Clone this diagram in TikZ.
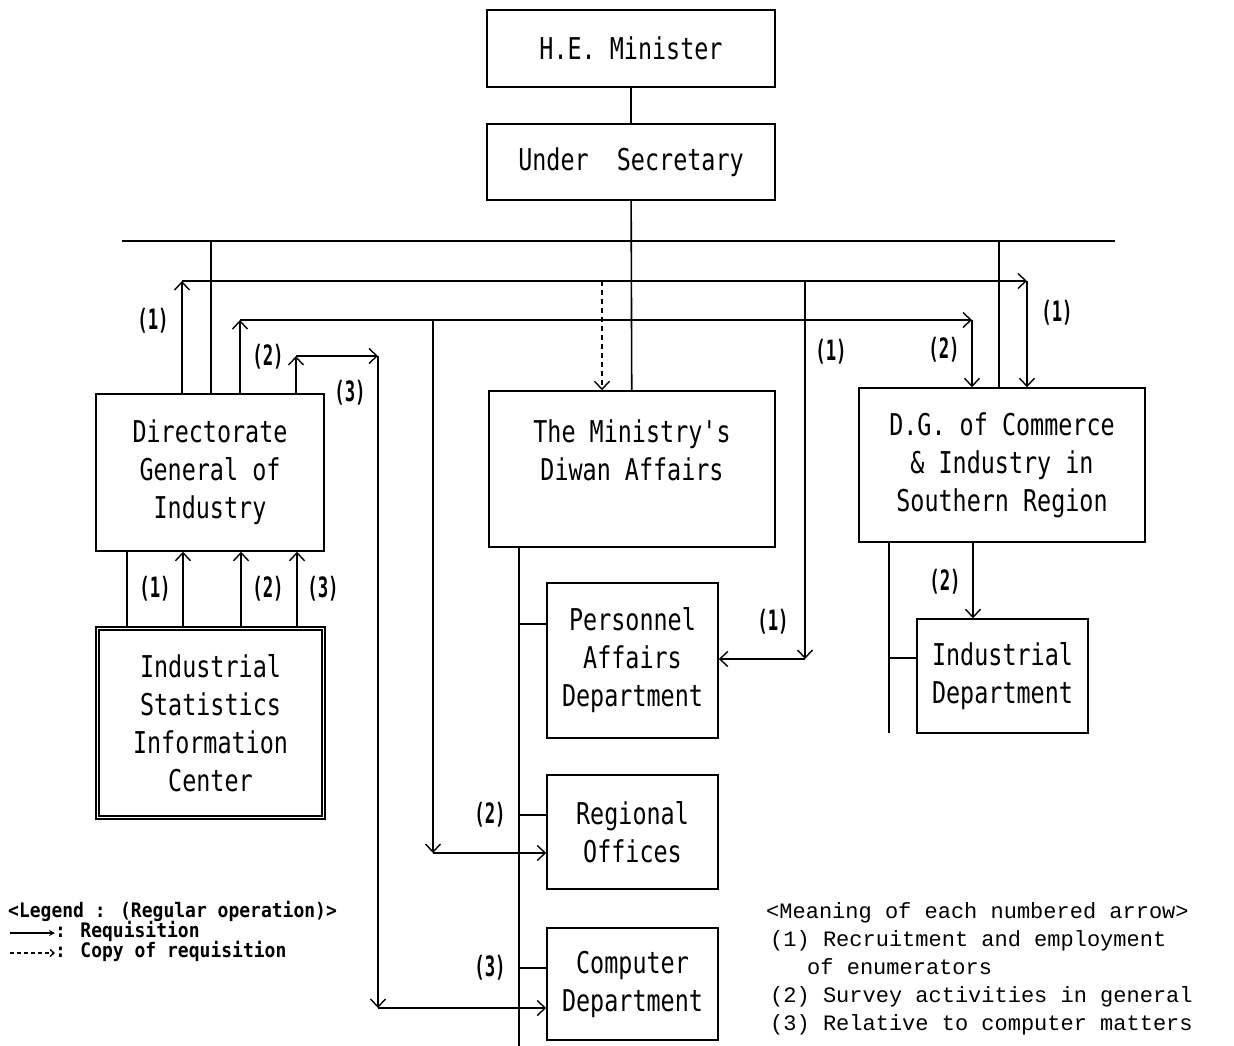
\documentclass[tikz,border=0pt]{standalone}
\usepackage{fontspec}
\usetikzlibrary{arrows.meta}
\newfontfamily\boxfont[FakeStretch=0.78]{DejaVu Sans Mono}
\newfontfamily\lblfont[FakeStretch=0.62]{DejaVu Sans Mono Bold}
\newfontfamily\legfont[FakeStretch=0.9]{DejaVu Sans Mono Bold}
\newfontfamily\meanfont{Liberation Mono}
\begin{document}
\begin{tikzpicture}[x=1pt,y=-1pt,
  box/.style={draw, line width=1.5pt, inner sep=0pt, align=center,
    font=\boxfont\fontsize{30}{38}\selectfont},
  ln/.style={line width=1.6pt},
  arr/.style={ln,-{Straight Barb[length=8pt,width=15pt,line width=1.4pt]}},
  lbl/.style={inner sep=0pt, font=\lblfont\fontsize{28}{30}\selectfont},
  leg/.style={inner sep=0pt, anchor=west, text height=13pt, text depth=4pt,
    font=\legfont\fontsize{20}{20}\selectfont},
  mean/.style={inner sep=0pt, anchor=west, text height=14pt, text depth=4pt,
    font=\meanfont\fontsize{22}{24}\selectfont}]
\useasboundingbox (0,0) rectangle (1234,1046);

% boxes
\node[box, minimum width=288pt, minimum height=77pt] (min) at (631,48.5) {H.E. Minister};
\node[box, minimum width=288pt, minimum height=76pt] (us) at (631,162) {Under\ \ Secretary};
\node[box, minimum width=228pt, minimum height=157pt] (dgi) at (210,472.5) {Directorate\\General of\\Industry};
\node[box, double, line width=1.3pt, double distance=1.6pt, minimum width=226pt, minimum height=189pt] (isic) at (210.5,723) {Industrial\\Statistics\\Information\\Center};
\node[box, minimum width=286pt, minimum height=156pt] (diwan) at (632,469) {The Ministry's\\Diwan Affairs\\\mbox{}};
\node[box, minimum width=286pt, minimum height=154pt] (dgc) at (1002,465) {D.G. of Commerce\\\& Industry in\\Southern Region};
\node[box, minimum width=171pt, minimum height=155pt] (pers) at (632.5,660.5) {Personnel\\Affairs\\Department};
\node[box, minimum width=171pt, minimum height=114pt] (reg) at (632.5,832) {Regional\\Offices};
\node[box, minimum width=171pt, minimum height=112pt] (comp) at (632.5,984) {Computer\\Department};
\node[box, minimum width=171pt, minimum height=114pt] (ind) at (1002.5,676) {Industrial\\Department};

% hierarchy lines
\coordinate (barL) at (122,241);
\coordinate (barR) at (1115,241);
\coordinate (barD) at (211,241);
\coordinate (barC) at (999,241);
\draw[ln] (min) -- (us);
\draw[ln] (us) -- (diwan);
\draw[ln] (barL) -- (barR);
\draw[ln] (barD) -- (dgi.north -| barD);
\draw[ln] (barC) -- (dgc.north -| barC);

% Diwan spine
\coordinate (sp) at (519,547);
\coordinate (spE) at (519,1046);
\draw[ln] (diwan.south -| sp) -- (spE);
\coordinate (bp) at (519,624);
\coordinate (br) at (519,815);
\coordinate (bc) at (519,968);
\draw[ln] (bp) -- (pers.west |- bp);
\draw[ln] (br) -- (reg.west |- br);
\draw[ln] (bc) -- (comp.west |- bc);

% DG Commerce spine
\coordinate (sg) at (889,542);
\coordinate (sgE) at (889,733);
\draw[ln] (dgc.south -| sg) -- (sgE);
\coordinate (bi) at (889,658);
\draw[ln] (bi) -- (ind.west |- bi);
\coordinate (a2i) at (973,542);
\draw[arr] (dgc.south -| a2i) -- (ind.north -| a2i);

% ISIC to DGI
\coordinate (q0) at (127,0);
\coordinate (q1) at (183,0);
\coordinate (q2) at (241,0);
\coordinate (q3) at (297,0);
\draw[ln] (isic.north -| q0) -- (dgi.south -| q0);
\draw[arr] (isic.north -| q1) -- (dgi.south -| q1);
\draw[arr] (isic.north -| q2) -- (dgi.south -| q2);
\draw[arr] (isic.north -| q3) -- (dgi.south -| q3);

% requisition (1)
\coordinate (c1) at (182,281);
\coordinate (c1r) at (1027,281);
\coordinate (p1) at (805,281);
\coordinate (p1b) at (805,659);
\coordinate (d1) at (602,281);
\draw[arr] (dgi.north -| c1) -- (c1);
\draw[arr] (c1) -- (c1r);
\draw[arr] (c1r) -- (dgc.north -| c1r);
\draw[arr] (p1) -- (p1b);
\draw[arr] (p1b) -- (pers.east |- p1b);
\draw[arr, dashed, dash pattern=on 5pt off 4pt] (d1) -- (diwan.north -| d1);

% requisition (2)
\coordinate (c2) at (240,320);
\coordinate (c2r) at (972,320);
\coordinate (r2) at (433,320);
\coordinate (r2b) at (433,853);
\draw[arr] (dgi.north -| c2) -- (c2);
\draw[arr] (c2) -- (c2r);
\draw[arr] (c2r) -- (dgc.north -| c2r);
\draw[arr] (r2) -- (r2b);
\draw[arr] (r2b) -- (reg.west |- r2b);

% requisition (3)
\coordinate (c3) at (296,356);
\coordinate (c3r) at (378,356);
\coordinate (c3b) at (378,1008);
\draw[arr] (dgi.north -| c3) -- (c3);
\draw[arr] (c3) -- (c3r);
\draw[arr] (c3r) -- (c3b);
\draw[arr] (c3b) -- (comp.west |- c3b);

% numbered labels
\node[lbl] (t1a) at (153,321) {(1)};
\node[lbl] (t2a) at (268,357) {(2)};
\node[lbl] (t3a) at (350,393) {(3)};
\node[lbl] (t1b) at (155,589) {(1)};
\node[lbl] (t2b) at (268,589) {(2)};
\node[lbl] (t3b) at (323,589) {(3)};
\node[lbl] (t1c) at (831,352) {(1)};
\node[lbl] (t2c) at (944,350) {(2)};
\node[lbl] (t1d) at (1057,313) {(1)};
\node[lbl] (t1e) at (773,622) {(1)};
\node[lbl] (t2e) at (490,815) {(2)};
\node[lbl] (t3e) at (490,968) {(3)};
\node[lbl] (t2f) at (945,582) {(2)};

% legend
\node[leg] (lg0) at (8,913) {<Legend : (Regular operation)>};
\coordinate (lgA) at (10,933);
\coordinate (lgB) at (55,933);
\coordinate (lgC) at (10,953);
\coordinate (lgD) at (55,953);
\draw[line width=1.3pt, -{Stealth[length=6pt,width=6pt]}] (lgA) -- (lgB);
\draw[line width=1.3pt, dashed, dash pattern=on 4pt off 3pt, -{Straight Barb[length=4pt,width=7pt]}] (lgC) -- (lgD);
\node[leg] (lg1) at (lgB) {: Requisition};
\node[leg] (lg2) at (lgD) {: Copy of requisition};

% meaning
\node[mean] (m0) at (766,913) {<Meaning of each numbered arrow>};
\node[mean] (m1) at (770,941) {(1) Recruitment and employment};
\node[mean] (m1b) at (807,969) {of enumerators};
\node[mean] (m2) at (770,997) {(2) Survey activities in general};
\node[mean] (m3) at (770,1025) {(3) Relative to computer matters};
\end{tikzpicture}
\end{document}
